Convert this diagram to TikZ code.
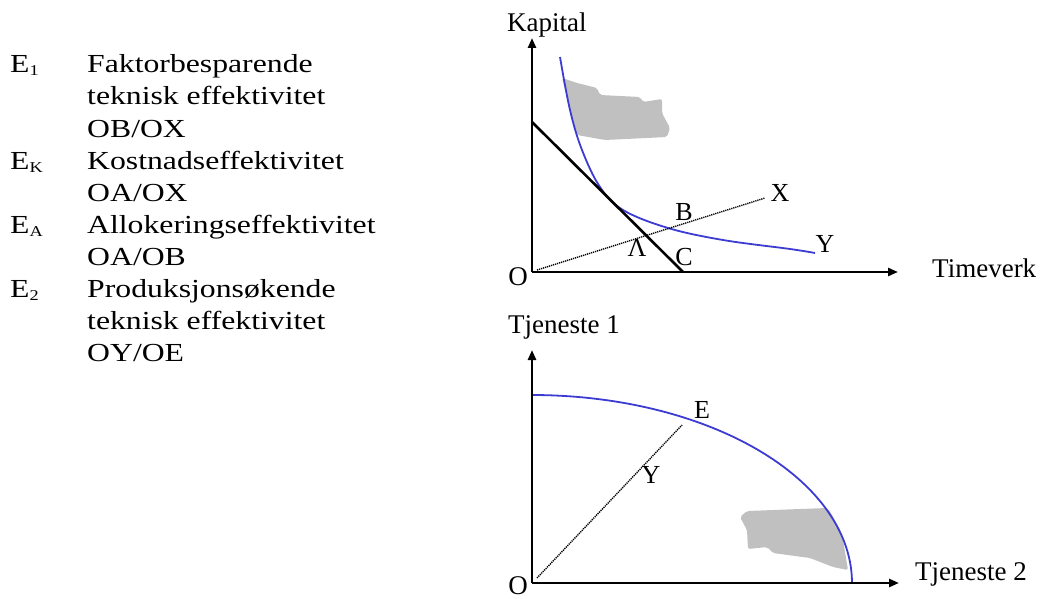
\documentclass[tikz,border=0pt]{standalone}
\usepackage{fontspec}
\setmainfont{Liberation Serif}
\newfontfamily\legendfont[FakeStretch=1.22]{Liberation Serif}
\usetikzlibrary{arrows.meta}
\definecolor{curveblue}{RGB}{60,60,210}
\definecolor{blobgray}{RGB}{192,192,192}
\newcommand\lsub[1]{\raisebox{-3pt}{\fontsize{15}{15}\selectfont #1}}
\begin{document}
\begin{tikzpicture}[x=1pt,y=-1pt,
  leg/.style={font=\legendfont\fontsize{26}{26}\selectfont, anchor=base west, inner sep=0pt},
  axlab/.style={font=\fontsize{27}{27}\selectfont, anchor=base west, inner sep=0pt},
  ptlab/.style={font=\fontsize{26}{26}\selectfont, inner sep=0pt},
  axisline/.style={line width=2.6pt, -{Triangle[length=10pt,width=8pt]}},
  budget/.style={line width=2.6pt},
  blueline/.style={curveblue, line width=1.8pt},
  dotline/.style={line width=1.4pt, dash pattern=on 1.2pt off 0.9pt},
  blob/.style={fill=blobgray, draw=none, rounded corners=2pt}]
\useasboundingbox (0,0) rectangle (1043,599);

% ---------- legend ----------
\node[leg] (e1) at (10,73) {E\lsub{1}};
\node[leg] (t1) at (87,73) {Faktorbesparende};
\node[leg] (t2) at (87,105) {teknisk effektivitet};
\node[leg] (t3) at (87,137) {OB/OX};
\node[leg] (ek) at (10,169) {E\lsub{K}};
\node[leg] (t4) at (87,169) {Kostnadseffektivitet};
\node[leg] (t5) at (87,201) {OA/OX};
\node[leg] (ea) at (10,233) {E\lsub{A}};
\node[leg] (t6) at (87,233) {Allokeringseffektivitet};
\node[leg] (t7) at (87,265) {OA/OB};
\node[leg] (e2) at (10,297) {E\lsub{2}};
\node[leg] (t8) at (87,297) {Produksjonsøkende};
\node[leg] (t9) at (87,329) {teknisk effektivitet};
\node[leg] (t10) at (87,361) {OY/OE};

% ---------- top graph ----------
\coordinate (O1) at (532,272);
\coordinate (K1) at (532,38);
\coordinate (T1) at (898,272);
\coordinate (bstart) at (532,122);
\coordinate (bend) at (683,272);
\coordinate (d1) at (537,270);
\coordinate (d2) at (765,198);

\fill[blob] (562,78) -- (577,83) -- (597,88) -- (600,95) -- (640,97) -- (643,102)
  -- (662,99) -- (662,113) -- (670,128) -- (667,137) -- (605,140) -- (577,135)
  -- (570,110) -- cycle;

\draw[blueline] plot[smooth, tension=0.6] coordinates {(560,57) (570,110) (582,150)
  (600,187) (623,210) (668,228) (723,240) (790,249) (815,253)};
\draw[budget] (bstart) -- (bend);
\draw[dotline] (d1) -- (d2);
\draw[axisline] (O1) -- (K1);
\draw[axisline] (O1) -- (T1);

\node[axlab] (kap) at (507,32) {Kapital};
\node[axlab] (tim) at (932,277) {Timeverk};
\node[ptlab, font=\fontsize{27}{27}\selectfont] (o1) at (518,277) {O};
\node[ptlab] (lx) at (780,193) {X};
\node[ptlab] (ly) at (825,244) {Y};
\node[ptlab] (lb) at (684,212) {B};
\node[ptlab] (la) at (637,248) {Λ};
\node[ptlab] (lc) at (684,257) {C};

% ---------- bottom graph ----------
\coordinate (O2) at (532,583);
\coordinate (S1) at (532,350);
\coordinate (S2) at (899,583);
\coordinate (f1) at (537,578);
\coordinate (f2) at (682,425);

\fill[blob] (740,517) -- (747,511) -- (827,508) -- (831,513) -- (838,527) -- (843,540)
  -- (848,570) -- (833,567) -- (810,558) -- (773,553) -- (767,547) -- (748,549)
  -- (747,530) -- cycle;

\draw[blueline] plot[domain=0:90, samples=80] ({532+320*cos(\x)}, {583-188*sin(\x)});
\draw[dotline] (f1) -- (f2);
\draw[axisline] (O2) -- (S1);
\draw[axisline] (O2) -- (S2);

\node[axlab] (tj1) at (508,333) {Tjeneste 1};
\node[axlab] (tj2) at (915,580) {Tjeneste 2};
\node[ptlab, font=\fontsize{27}{27}\selectfont] (o2) at (518,586) {O};
\node[ptlab] (le) at (702,410) {E};
\node[ptlab] (ly2) at (651,475) {Y};
\end{tikzpicture}
\end{document}
